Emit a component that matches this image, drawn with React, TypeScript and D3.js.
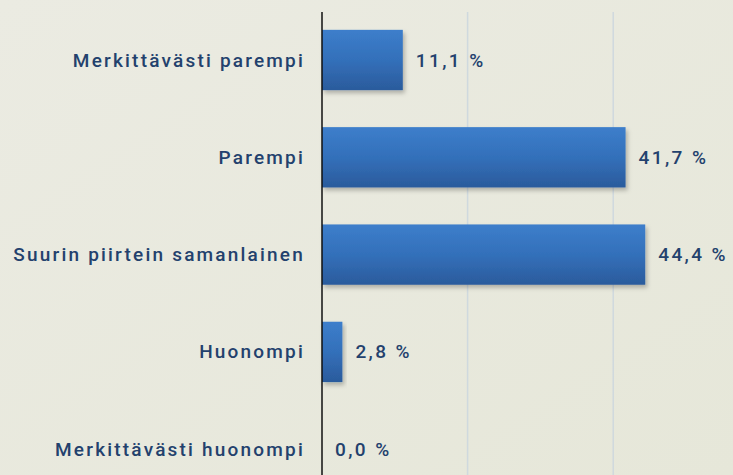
import React from "react";
import * as d3 from "d3";

const categories = [
  "Merkittävästi parempi",
  "Parempi",
  "Suurin piirtein samanlainen",
  "Huonompi",
  "Merkittävästi huonompi",
];
const values = [11.1, 41.7, 44.4, 2.8, 0.0];
const valueLabels = ["11,1 %", "41,7 %", "44,4 %", "2,8 %", "0,0 %"];
const gridTicks = [20, 40, 60];

const W = 733;
const H = 475;

export default function App() {
  const x = d3.scaleLinear().domain([0, 60]).range([322, 322 + 60 * 7.28]);
  const y = d3
    .scaleBand<string>()
    .domain(categories)
    .range([11.35, 11.35 + 5 * 97.3])
    .paddingInner(0.38)
    .paddingOuter(0.19);
  const textColor = "#23416d";
  const font = "Roboto, 'DejaVu Sans', sans-serif";
  return (
    <svg
      width={W}
      height={H}
      style={{ position: "absolute", left: 0, top: 0, display: "block" }}
    >
      <defs>
        <linearGradient id="bg" x1="0" y1="0" x2="1" y2="1">
          <stop offset="0" stopColor="#ebebe2" />
          <stop offset="1" stopColor="#e6e7d9" />
        </linearGradient>
        <linearGradient id="bar" x1="0" y1="0" x2="0" y2="1">
          <stop offset="0" stopColor="#3d7ecb" />
          <stop offset="0.5" stopColor="#3370ba" />
          <stop offset="1" stopColor="#2b5b9c" />
        </linearGradient>
        <filter id="shadow" x="-10%" y="-10%" width="130%" height="140%">
          <feDropShadow dx="2" dy="3" stdDeviation="2" floodColor="#000" floodOpacity="0.25" />
        </filter>
      </defs>
      <rect x={0} y={0} width={W} height={H} fill="url(#bg)" />
      {gridTicks.map((t) => (
        <line
          key={t}
          x1={x(t)}
          x2={x(t)}
          y1={12}
          y2={H}
          stroke="#cfd9de"
          strokeWidth={1.5}
        />
      ))}
      {categories.map((c, i) => {
        const y0 = y(c)!;
        const bw = x(values[i]) - x(0);
        return (
          <g key={c}>
            {values[i] > 0 && (
              <rect
                x={x(0)}
                y={y0}
                width={bw}
                height={y.bandwidth()}
                fill="url(#bar)"
                filter="url(#shadow)"
              />
            )}
            <text
              x={305}
              y={y0 + y.bandwidth() / 2}
              textAnchor="end"
              dominantBaseline="central"
              fill={textColor}
              fontFamily={font}
              fontSize={19}
              fontWeight={500}
              letterSpacing={2.2}
            >
              {c}
            </text>
            <text
              x={x(values[i]) + 13}
              y={y0 + y.bandwidth() / 2}
              dominantBaseline="central"
              fill={textColor}
              fontFamily={font}
              fontSize={19}
              fontWeight={500}
              letterSpacing={2.4}
            >
              {valueLabels[i]}
            </text>
          </g>
        );
      })}
      <line x1={x(0)} x2={x(0)} y1={12} y2={H} stroke="#111" strokeWidth={1.5} />
    </svg>
  );
}
